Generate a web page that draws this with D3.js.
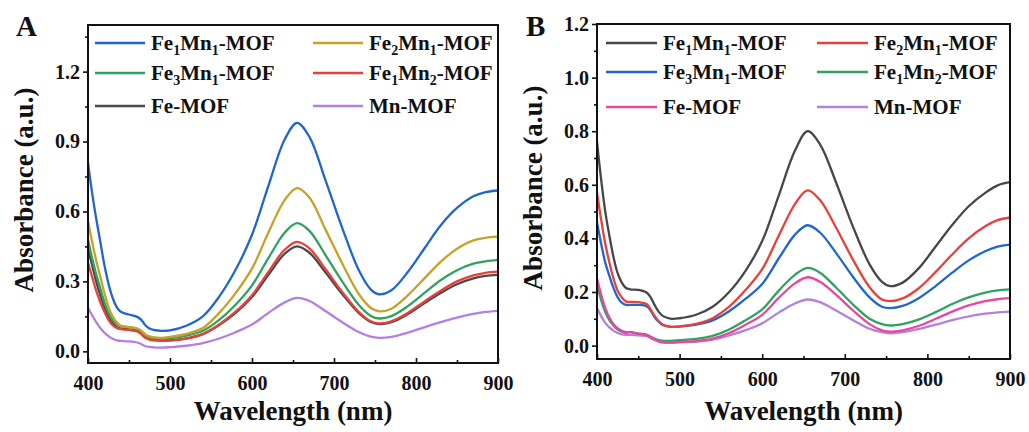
<!DOCTYPE html>
<html>
<head>
<meta charset="utf-8" />
<title>UV-Vis absorbance of Fe/Mn MOFs</title>
<script src="https://cdn.jsdelivr.net/npm/d3@7"></script>
<style>
    body {
        margin: 0;
        background: #ffffff;
    }
    svg text {
        font-family: "Liberation Serif", "Times New Roman", serif;
        font-weight: bold;
        fill: #111;
    }
    .axis path { display: none; }
    .axis line { stroke: #111; stroke-width: 1.6px; }
    .axis text { font-size: 20px; }
    .frame { fill: none; stroke: #111; stroke-width: 2px; }
    .spectrum { fill: none; stroke-width: 2.3px; stroke-linejoin: round; }
</style>
</head>
<body>
<svg id="chart" width="1029" height="432"></svg>
<script>
// wavelength grid (nm) shared by every spectrum
var wavelength = [400, 405, 410, 415, 420, 425, 430, 435, 440, 450, 460, 465, 470, 475, 480, 490, 500,
    520, 540, 560, 580, 600, 620, 640, 655, 670, 690, 710, 730, 745, 755, 770, 790, 810, 830, 850, 870, 885, 900];

// panel A spectra
var aFe1Mn1 = [.81, .68, .57, .47, .37, .29, .23, .19, .17, .158, .148, .135, .112, .098, .092, .088, .09,
    .11, .15, .235, .35, .50, .71, .91, .98, .92, .73, .53, .35, .265, .245, .262, .34, .44, .54, .615, .665, .683, .69];
var aFe2Mn1 = [.56, .47, .39, .32, .25, .19, .15, .125, .11, .104, .098, .088, .072, .064, .06, .058, .062,
    .075, .10, .165, .25, .355, .51, .65, .70, .66, .52, .377, .247, .186, .172, .183, .24, .312, .384, .44, .476, .487, .492];
var aFe3Mn1 = [.48, .40, .33, .27, .21, .165, .135, .117, .108, .104, .097, .087, .07, .061, .057, .055, .056,
    .067, .088, .135, .20, .283, .40, .51, .55, .517, .411, .30, .20, .152, .141, .151, .194, .25, .305, .348, .376, .386, .392];
var aFe1Mn2 = [.38, .32, .26, .21, .17, .135, .112, .10, .095, .092, .085, .074, .058, .05, .047, .045, .046,
    .055, .074, .115, .17, .241, .341, .437, .47, .442, .351, .255, .17, .129, .12, .129, .165, .213, .26, .30, .326, .337, .342];
var aFe = [.44, .37, .30, .24, .19, .15, .122, .105, .097, .094, .088, .077, .06, .052, .049, .047, .048,
    .056, .074, .113, .165, .233, .328, .419, .45, .423, .337, .246, .165, .126, .117, .125, .16, .206, .25, .288, .313, .324, .328];
var aMn = [.187, .155, .125, .10, .08, .065, .054, .047, .045, .043, .038, .031, .022, .019, .017, .016, .018,
    .024, .035, .055, .082, .115, .165, .21, .229, .216, .172, .125, .083, .063, .058, .062, .08, .103, .125, .145, .161, .169, .174];

// panel B spectra
var bFe1Mn1 = [.76, .62, .50, .41, .33, .27, .235, .215, .21, .208, .198, .18, .15, .125, .11, .10, .102,
    .115, .145, .20, .28, .39, .56, .73, .80, .751, .604, .443, .303, .238, .222, .235, .29, .37, .45, .52, .57, .598, .61];
var bFe2Mn1 = [.57, .47, .38, .31, .25, .205, .18, .165, .163, .162, .155, .135, .11, .09, .078, .07, .072,
    .081, .102, .145, .208, .285, .41, .53, .579, .543, .437, .32, .218, .172, .166, .176, .215, .275, .34, .40, .445, .468, .478];
var bFe3Mn1 = [.46, .38, .31, .26, .215, .18, .16, .152, .152, .152, .147, .13, .105, .088, .076, .07, .071,
    .078, .094, .128, .175, .23, .325, .415, .449, .422, .343, .256, .18, .145, .14, .148, .178, .222, .272, .318, .352, .369, .377];
var bFe1Mn2 = [.23, .17, .125, .095, .075, .06, .052, .048, .05, .045, .04, .032, .025, .02, .018, .018, .02,
    .025, .036, .06, .095, .135, .205, .265, .29, .272, .215, .153, .10, .08, .075, .08, .098, .125, .155, .18, .198, .206, .21];
var bFe = [.25, .19, .14, .105, .08, .065, .055, .05, .05, .045, .04, .033, .024, .017, .013, .012, .014,
    .017, .026, .047, .078, .115, .178, .233, .255, .238, .188, .131, .08, .057, .052, .057, .074, .10, .127, .15, .166, .173, .177];
var bMn = [.14, .11, .085, .068, .056, .047, .042, .04, .04, .038, .035, .028, .02, .014, .011, .01, .012,
    .015, .022, .038, .058, .083, .123, .158, .172, .162, .13, .095, .063, .05, .046, .05, .062, .078, .095, .109, .119, .124, .127];

// legend labels ("_n" marks a subscript digit)
var labels = ["Fe_1Mn_1-MOF", "Fe_2Mn_1-MOF", "Fe_3Mn_1-MOF", "Fe_1Mn_2-MOF", "Fe-MOF", "Mn-MOF"];

var xTicks = [400, 500, 600, 700, 800, 900];
var xMinor = [450, 550, 650, 750, 850];
var yTicksA = [0, 0.3, 0.6, 0.9, 1.2];
var yMinorA = [0.15, 0.45, 0.75, 1.05, 1.35];
var yTicksB = [0, 0.2, 0.4, 0.6, 0.8, 1.0, 1.2];
var yMinorB = [0.1, 0.3, 0.5, 0.7, 0.9, 1.1];

var colorsA = ["#1f66cf", "#c9a128", "#2ea35e", "#e8413a", "#4a4a4a", "#b47fe0"];
var colorsB = ["#474747", "#e8413a", "#1f66cf", "#2ea35e", "#e9479e", "#b47fe0"];

var svg = d3.select("#chart");

function drawPanel(p) {
    var g = svg.append("g");
    var x = d3.scaleLinear().domain([400, 900]).range([p.left, p.right]);
    var y = d3.scaleLinear().domain(p.yDomain).range([p.bottom, p.top]);

    // left axis: outward ticks
    g.append("g").attr("class", "axis")
        .attr("transform", "translate(" + p.left + ",0)")
        .call(d3.axisLeft(y).tickValues(p.yTicks).tickSize(5).tickPadding(3).tickFormat(d3.format(".1f")));
    g.append("g").attr("class", "axis")
        .attr("transform", "translate(" + p.left + ",0)")
        .call(d3.axisLeft(y).tickValues(p.yMinor).tickSize(3).tickFormat(""));

    // bottom axis: inward ticks
    g.append("g").attr("class", "axis")
        .attr("transform", "translate(0," + p.bottom + ")")
        .call(d3.axisBottom(x).tickValues(xTicks).tickSize(-5).tickPadding(13).tickFormat(d3.format("d")));
    g.append("g").attr("class", "axis")
        .attr("transform", "translate(0," + p.bottom + ")")
        .call(d3.axisBottom(x).tickValues(xMinor).tickSize(-3).tickFormat(""));

    var clipId = "clip" + p.name;
    g.append("clipPath").attr("id", clipId)
        .append("rect")
        .attr("x", p.left).attr("y", p.top)
        .attr("width", p.right - p.left).attr("height", p.bottom - p.top);

    var line = d3.line()
        .x(function(d, i) { return x(wavelength[i]); })
        .y(function(d) { return y(d); })
        .curve(d3.curveCatmullRom.alpha(0.5));

    // pair each spectrum with its colour, then draw in the requested stacking order
    var curves = p.series.map(function(s, i) { return { values: s, color: p.colors[i] }; });
    g.append("g").attr("clip-path", "url(#" + clipId + ")")
        .selectAll("path")
        .data(p.drawOrder.map(function(i) { return curves[i]; }))
        .enter().append("path")
        .attr("class", "spectrum")
        .attr("stroke", function(d) { return d.color; })
        .attr("d", function(d) { return line(d.values); });

    g.append("rect").attr("class", "frame")
        .attr("x", p.left).attr("y", p.top)
        .attr("width", p.right - p.left).attr("height", p.bottom - p.top);

    // legend, two columns by three rows
    var leg = g.selectAll(".leg")
        .data(labels)
        .enter().append("g")
        .attr("transform", function(d, i) {
            return "translate(" + p.legX[i % 2] + "," + p.legY[Math.floor(i / 2)] + ")";
        });
    leg.append("line")
        .attr("x1", 0).attr("x2", p.legLine)
        .attr("stroke", function(d, i) { return p.colors[i]; })
        .attr("stroke-width", 2.3);
    leg.append("text")
        .attr("x", p.legLine + 6)
        .attr("y", 7)
        .style("font-size", "21px")
        .each(function(d) {
            var t = d3.select(this);
            var lowered = false;
            d.split(/(_\d)/).forEach(function(part) {
                if (!part) return;
                if (part[0] === "_") {
                    t.append("tspan").attr("dy", 5).style("font-size", "14px").text(part.slice(1));
                    lowered = true;
                } else {
                    t.append("tspan").attr("dy", lowered ? -5 : 0).text(part);
                    lowered = false;
                }
            });
        });

    // axis titles
    g.append("text")
        .attr("x", (p.left + p.right) / 2)
        .attr("y", 420)
        .attr("text-anchor", "middle")
        .style("font-size", "27px")
        .text("Wavelength (nm)");
    g.append("text")
        .attr("transform", "translate(" + p.titleX + "," + p.titleY + ") rotate(-90)")
        .attr("text-anchor", "middle")
        .style("font-size", "27px")
        .text("Absorbance (a.u.)");

    // panel letter
    g.append("text")
        .attr("x", p.letterX).attr("y", 36)
        .style("font-size", "29px")
        .text(p.name);
}

drawPanel({
    name: "A",
    left: 88, right: 498, top: 25, bottom: 363,
    yDomain: [-0.05, 1.4],
    yTicks: yTicksA, yMinor: yMinorA,
    series: [aFe1Mn1, aFe2Mn1, aFe3Mn1, aFe1Mn2, aFe, aMn],
    colors: colorsA,
    drawOrder: [4, 3, 2, 1, 0, 5],
    legX: [95, 313], legY: [43, 73, 106], legLine: 50,
    titleX: 33, titleY: 190,
    letterX: 16
});

drawPanel({
    name: "B",
    left: 597, right: 1010, top: 24, bottom: 359,
    yDomain: [-0.05, 1.2],
    yTicks: yTicksB, yMinor: yMinorB,
    series: [bFe1Mn1, bFe2Mn1, bFe3Mn1, bFe1Mn2, bFe, bMn],
    colors: colorsB,
    drawOrder: [5, 3, 4, 2, 1, 0],
    legX: [606, 817], legY: [43, 72, 107], legLine: 51,
    titleX: 542, titleY: 188,
    letterX: 526
});
</script>
</body>
</html>
